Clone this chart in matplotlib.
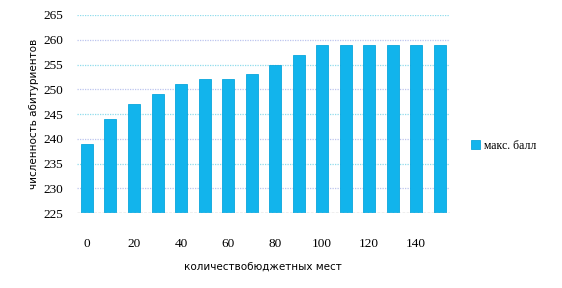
import numpy as np
import matplotlib
matplotlib.use("Agg")
import matplotlib.pyplot as plt

# budget places vs number of applicants
places = [0, 10, 20, 30, 40, 50, 60, 70, 80, 90, 100, 110, 120, 130, 140, 150]
applicants = [239, 244, 247, 249, 251, 252, 252, 253, 255, 257, 259, 259, 259, 259, 259, 259]
xticks = [0, 20, 40, 60, 80, 100, 120, 140]
yticks = [225, 230, 235, 240, 245, 250, 255, 260, 265]
series_name = "макс. балл"

fig = plt.figure(figsize=(5.62, 2.88), dpi=100)
ax = fig.add_axes([0.137, 0.26, 0.663, 0.688])

ax.bar(places, [v - 225 for v in applicants], bottom=225, width=5.1,
       color="#12b4ec", edgecolor="#0aa6dc", linewidth=0.6, label=series_name, zorder=3)

grid_colors = ["#bcc4ee", "#8fdcec"]
for i, y in enumerate(yticks[1:]):
    ax.axhline(y, color=grid_colors[i % 2], linestyle=(0, (1, 1)), linewidth=0.9, zorder=1)
ax.axhline(225, color="#b0b0b0", linestyle=(0, (2, 1)), linewidth=1.0, zorder=4)

ax.set_xlim(-4.25, 154.25)
ax.set_ylim(225, 265)
ax.set_xticks(xticks)
ax.set_yticks(yticks)
for s in ax.spines.values():
    s.set_visible(False)
ax.tick_params(length=0)
ax.tick_params(axis="x", pad=18)
ax.tick_params(axis="y", pad=10)
for lab in ax.get_xticklabels() + ax.get_yticklabels():
    lab.set_family("Liberation Serif")
    lab.set_fontsize(9.5)

ax.set_xlabel("количествобюджетных мест", fontsize=7.5, labelpad=8)
ax.set_ylabel("численность абитуриентов", fontsize=7.5, labelpad=3)

leg = ax.legend(loc="center left", bbox_to_anchor=(1.03, 0.34), frameon=False,
                handlelength=0.7, handleheight=0.7, handletextpad=0.4,
                prop={"family": "Liberation Serif", "size": 8.5})

fig.savefig("out.png", dpi=100)
